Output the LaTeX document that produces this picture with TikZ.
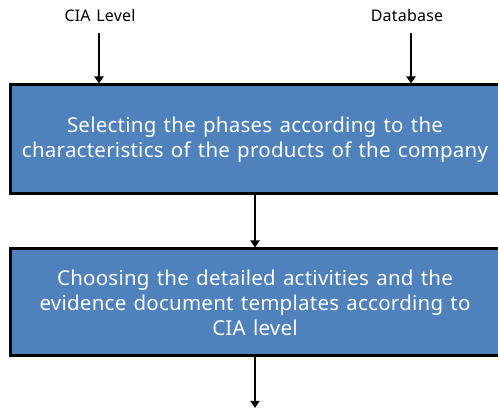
\documentclass[tikz,border=0pt]{standalone}
\usepackage{fontspec}
\setmainfont{Noto Sans}[LetterSpace=1.2,WordSpace=1.3]
\usetikzlibrary{arrows.meta}
\definecolor{boxblue}{HTML}{4F81BD}
\tikzset{
  stepbox/.style={draw=black, line width=3pt, fill=boxblue, text=white,
    align=center, minimum width=490pt, inner sep=0pt,
    font=\fontsize{20.5}{25}\selectfont},
  flow/.style={line width=2.6pt, -{Triangle[width=9pt,length=7pt]}},
  lbl/.style={font=\fontsize{16}{18}\selectfont, inner sep=0pt}
}
\begin{document}
\begin{tikzpicture}[x=1pt,y=1pt]
  \useasboundingbox (0,0) rectangle (498,409);
  % process boxes (right edge runs off the page)
  \node[stepbox, minimum height=109pt] (sel) at (255,269.5)
    {Selecting the phases according to the\\characteristics of the products of the company};
  \node[stepbox, minimum height=107pt] (cho) at (255,106.5)
    {Choosing the detailed activities and the\\evidence document templates according to\\CIA level};
  % inputs
  \node[lbl] (cia) at (100,393) {CIA Level};
  \node[lbl] (db) at (407,393) {Database};
  \coordinate (ciain) at (99,376);
  \coordinate (dbin) at (411,376);
  \coordinate (out) at (255,1);
  \draw[flow] (ciain) -- (ciain |- sel.north);
  \draw[flow] (dbin) -- (dbin |- sel.north);
  \draw[flow] (sel.south) -- (cho.north);
  \draw[flow] (cho.south) -- (out);
\end{tikzpicture}
\end{document}
